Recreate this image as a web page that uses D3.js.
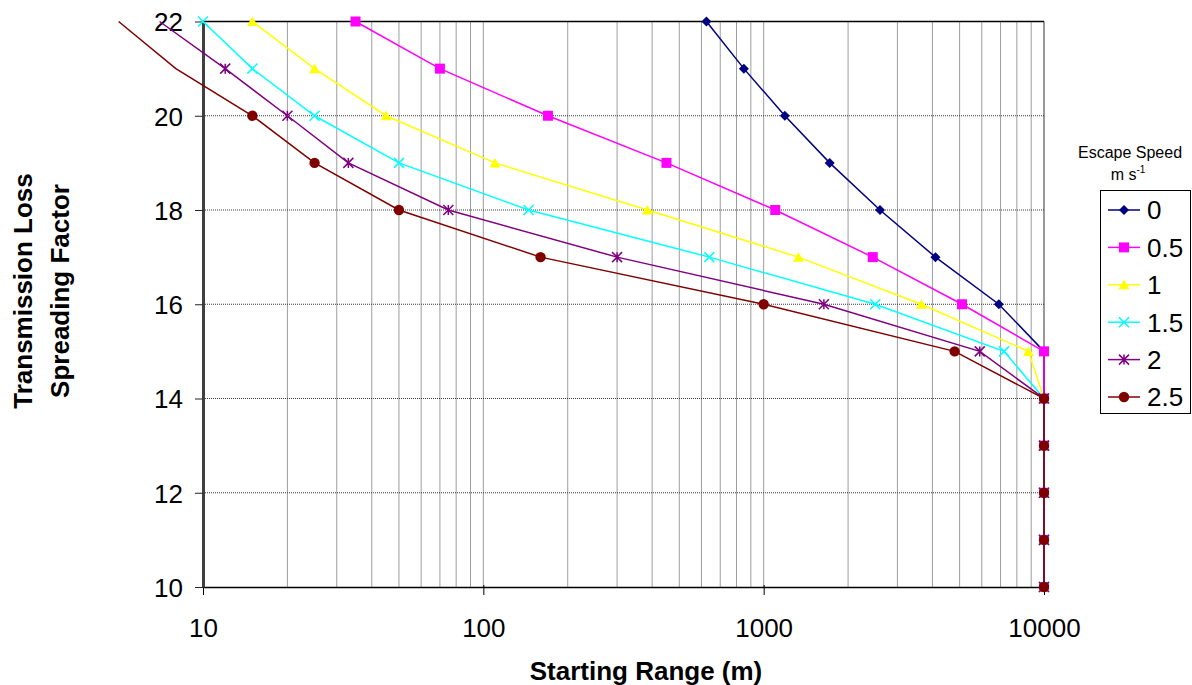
<!DOCTYPE html>
<html>
<head>
<meta charset="utf-8">
<script src="https://cdn.jsdelivr.net/npm/d3@7"></script>
<style>
  body { margin: 0; background: #fff; }
  svg { display: block; }
</style>
</head>
<body>
<div id="chart"></div>
<script>
// Spreading factor (y) for every point, shared by all series
const factors = [22, 21, 20, 19, 18, 17, 16, 15, 14, 13, 12, 11, 10]

// Starting range (m) for each escape speed, one value per factor
const range0 = [625, 850, 1190, 1720, 2600, 4100, 6900, 10000, 10000, 10000, 10000, 10000, 10000]
const range05 = [35, 70, 170, 450, 1100, 2450, 5100, 10000, 10000, 10000, 10000, 10000, 10000]
const range1 = [15, 25, 45, 110, 385, 1330, 3650, 8800, 10000, 10000, 10000, 10000, 10000]
const range15 = [10, 15, 25, 50, 145, 640, 2500, 7200, 10000, 10000, 10000, 10000, 10000]
const range2 = [7, 12, 20, 33, 75, 300, 1640, 5900, 10000, 10000, 10000, 10000, 10000]
const range25 = [5, 8, 15, 25, 50, 160, 1000, 4800, 10000, 10000, 10000, 10000, 10000]

const speedLabels = ['0', '0.5', '1', '1.5', '2', '2.5']
const speedRanges = [range0, range05, range1, range15, range2, range25]
const speedColours = ['#000080', '#ff00ff', '#ffff00', '#00ffff', '#800080', '#800000']
const speedMarkers = ['diamond', 'square', 'triangle', 'x', 'star', 'circle']

const xTicks = [10, 100, 1000, 10000]
const yTicks = [10, 12, 14, 16, 18, 20, 22]

const width = 1192
const height = 685
const margin = {left: 203, right: 148, top: 21.5, bottom: 98}
const plotW = width - margin.left - margin.right
const plotH = height - margin.top - margin.bottom
const font = '"Liberation Sans", Arial, sans-serif'

const svg = d3.select('#chart')
  .append('svg')
  .attr('width', width)
  .attr('height', height)
  .style('font-family', font)

const xScale = d3.scaleLog().domain([10, 10000]).range([0, plotW])
const yScale = d3.scaleLinear().domain([10, 22]).range([plotH, 0])

const gPlot = svg.append('g')
  .attr('transform', `translate(${margin.left},${margin.top})`)

// Minor log gridlines (2..9 in every decade) plus the major ones
const gridX = []
for (let dec = 10; dec < 10000; dec *= 10) {
  for (let m = 1; m < 10; m++) {
    if (dec * m > 10) gridX.push(dec * m)
  }
}
gPlot.append('g').selectAll('line')
  .data(gridX)
  .join('line')
  .attr('x1', d => xScale(d)).attr('x2', d => xScale(d))
  .attr('y1', 0).attr('y2', plotH)
  .attr('stroke', '#3a3a3a')
  .attr('stroke-width', 1)
  .attr('stroke-dasharray', '1,1')

gPlot.append('g').selectAll('line')
  .data(yTicks.filter(d => d > 10 && d < 22))
  .join('line')
  .attr('x1', 0).attr('x2', plotW)
  .attr('y1', d => yScale(d)).attr('y2', d => yScale(d))
  .attr('stroke', '#3a3a3a')
  .attr('stroke-width', 1)
  .attr('stroke-dasharray', '1,1')

// Plot border (top and right)
gPlot.append('line')
  .attr('x1', 0).attr('x2', plotW).attr('y1', 0).attr('y2', 0)
  .attr('stroke', '#000').attr('stroke-width', 1.5)
gPlot.append('line')
  .attr('x1', plotW).attr('x2', plotW).attr('y1', 0).attr('y2', plotH)
  .attr('stroke', '#333').attr('stroke-width', 1)

// Axes
const bAxis = gPlot.append('g')
  .attr('transform', `translate(0,${plotH})`)
  .call(d3.axisBottom(xScale)
    .tickValues(xTicks)
    .tickFormat(d3.format('d'))
    .tickSize(8)
    .tickSizeOuter(0))
bAxis.select('.domain').attr('stroke', '#000').attr('stroke-width', 1.5)
bAxis.selectAll('.tick line').attr('y1', -2)
bAxis.selectAll('text')
  .attr('y', 50)
  .attr('dy', 0)
  .style('font-size', '26px')
  .style('font-family', font)
  .attr('fill', '#000')

const lAxis = gPlot.append('g')
  .call(d3.axisLeft(yScale)
    .tickValues(yTicks)
    .tickSize(8)
    .tickSizeOuter(0))
lAxis.select('.domain').attr('stroke', '#404040').attr('stroke-width', 3)
lAxis.selectAll('.tick line').attr('stroke', '#222')
lAxis.selectAll('text')
  .attr('x', -20)
  .attr('dy', '0.36em')
  .style('font-size', '26px')
  .style('font-family', font)
  .attr('fill', '#000')

// Marker shapes, drawn around 0,0
function markerPath(shape) {
  const s = 5
  switch (shape) {
    case 'diamond': return `M0,${-s}L${s},0L0,${s}L${-s},0Z`
    case 'square': return `M${-s},${-s}H${s}V${s}H${-s}Z`
    case 'triangle': return `M0,${-s}L${s + 0.5},${s - 0.5}L${-s - 0.5},${s - 0.5}Z`
    case 'x': return `M${-s},${-s}L${s},${s}M${-s},${s}L${s},${-s}`
    case 'star': return `M${-s},${-s}L${s},${s}M${-s},${s}L${s},${-s}M0,${-s}V${s}`
    default: return null
  }
}
function drawMarker(g, shape, colour) {
  if (shape === 'circle') {
    g.append('circle').attr('r', 5.2).attr('fill', colour)
  } else if (shape === 'x' || shape === 'star') {
    g.append('path').attr('d', markerPath(shape))
      .attr('fill', 'none').attr('stroke', colour).attr('stroke-width', 1.5)
  } else {
    g.append('path').attr('d', markerPath(shape)).attr('fill', colour)
  }
}

// Series lines and markers, first series underneath
const line = d3.line()
  .x(d => xScale(d.range))
  .y(d => yScale(d.factor))

speedLabels.forEach((label, i) => {
  const pts = factors.map((f, j) => ({factor: f, range: speedRanges[i][j]}))
  const gSeries = gPlot.append('g').attr('class', 'series')

  gSeries.append('path')
    .datum(pts)
    .attr('d', line)
    .attr('fill', 'none')
    .attr('stroke', speedColours[i])
    .attr('stroke-width', 1.5)

  // Excel hides markers that fall left of the axis
  pts.filter(d => d.range >= 10).forEach(d => {
    const gm = gSeries.append('g')
      .attr('transform', `translate(${xScale(d.range)},${yScale(d.factor)})`)
    drawMarker(gm, speedMarkers[i], speedColours[i])
  })
})

// Axis titles
svg.append('text')
  .attr('x', 646)
  .attr('y', 680)
  .attr('text-anchor', 'middle')
  .style('font-size', '26px')
  .style('font-weight', 'bold')
  .text('Starting Range (m)')

const yTitle = svg.append('g')
  .attr('transform', 'translate(0,291)')
yTitle.append('text')
  .attr('transform', 'translate(32,0) rotate(-90)')
  .attr('text-anchor', 'middle')
  .style('font-size', '26px')
  .style('font-weight', 'bold')
  .text('Transmission Loss')
yTitle.append('text')
  .attr('transform', 'translate(69,0) rotate(-90)')
  .attr('text-anchor', 'middle')
  .style('font-size', '26px')
  .style('font-weight', 'bold')
  .text('Spreading Factor')

// Legend
const legendTitle = svg.append('g').attr('transform', 'translate(1130,0)')
legendTitle.append('text')
  .attr('y', 158)
  .attr('text-anchor', 'middle')
  .style('font-size', '16px')
  .text('Escape Speed')
const unit = legendTitle.append('text')
  .attr('x', -2)
  .attr('y', 180)
  .attr('text-anchor', 'middle')
  .style('font-size', '16px')
unit.append('tspan').text('m s')
unit.append('tspan')
  .attr('dy', -7)
  .style('font-size', '10px')
  .text('-1')

const gLegend = svg.append('g').attr('transform', 'translate(1100,190)')
gLegend.append('rect')
  .attr('x', 0.5).attr('y', 0.5)
  .attr('width', 90).attr('height', 223)
  .attr('fill', '#fff')
  .attr('stroke', '#000')
  .attr('stroke-width', 1)

speedLabels.forEach((label, i) => {
  const gi = gLegend.append('g')
    .attr('transform', `translate(0,${20 + i * 37.4})`)
  gi.append('line')
    .attr('x1', 8).attr('x2', 40)
    .attr('stroke', speedColours[i])
    .attr('stroke-width', 1.5)
  drawMarker(gi.append('g').attr('transform', 'translate(24,0)'), speedMarkers[i], speedColours[i])
  gi.append('text')
    .attr('x', 47)
    .attr('dy', '0.36em')
    .style('font-size', '26px')
    .text(label)
})
</script>
</body>
</html>
